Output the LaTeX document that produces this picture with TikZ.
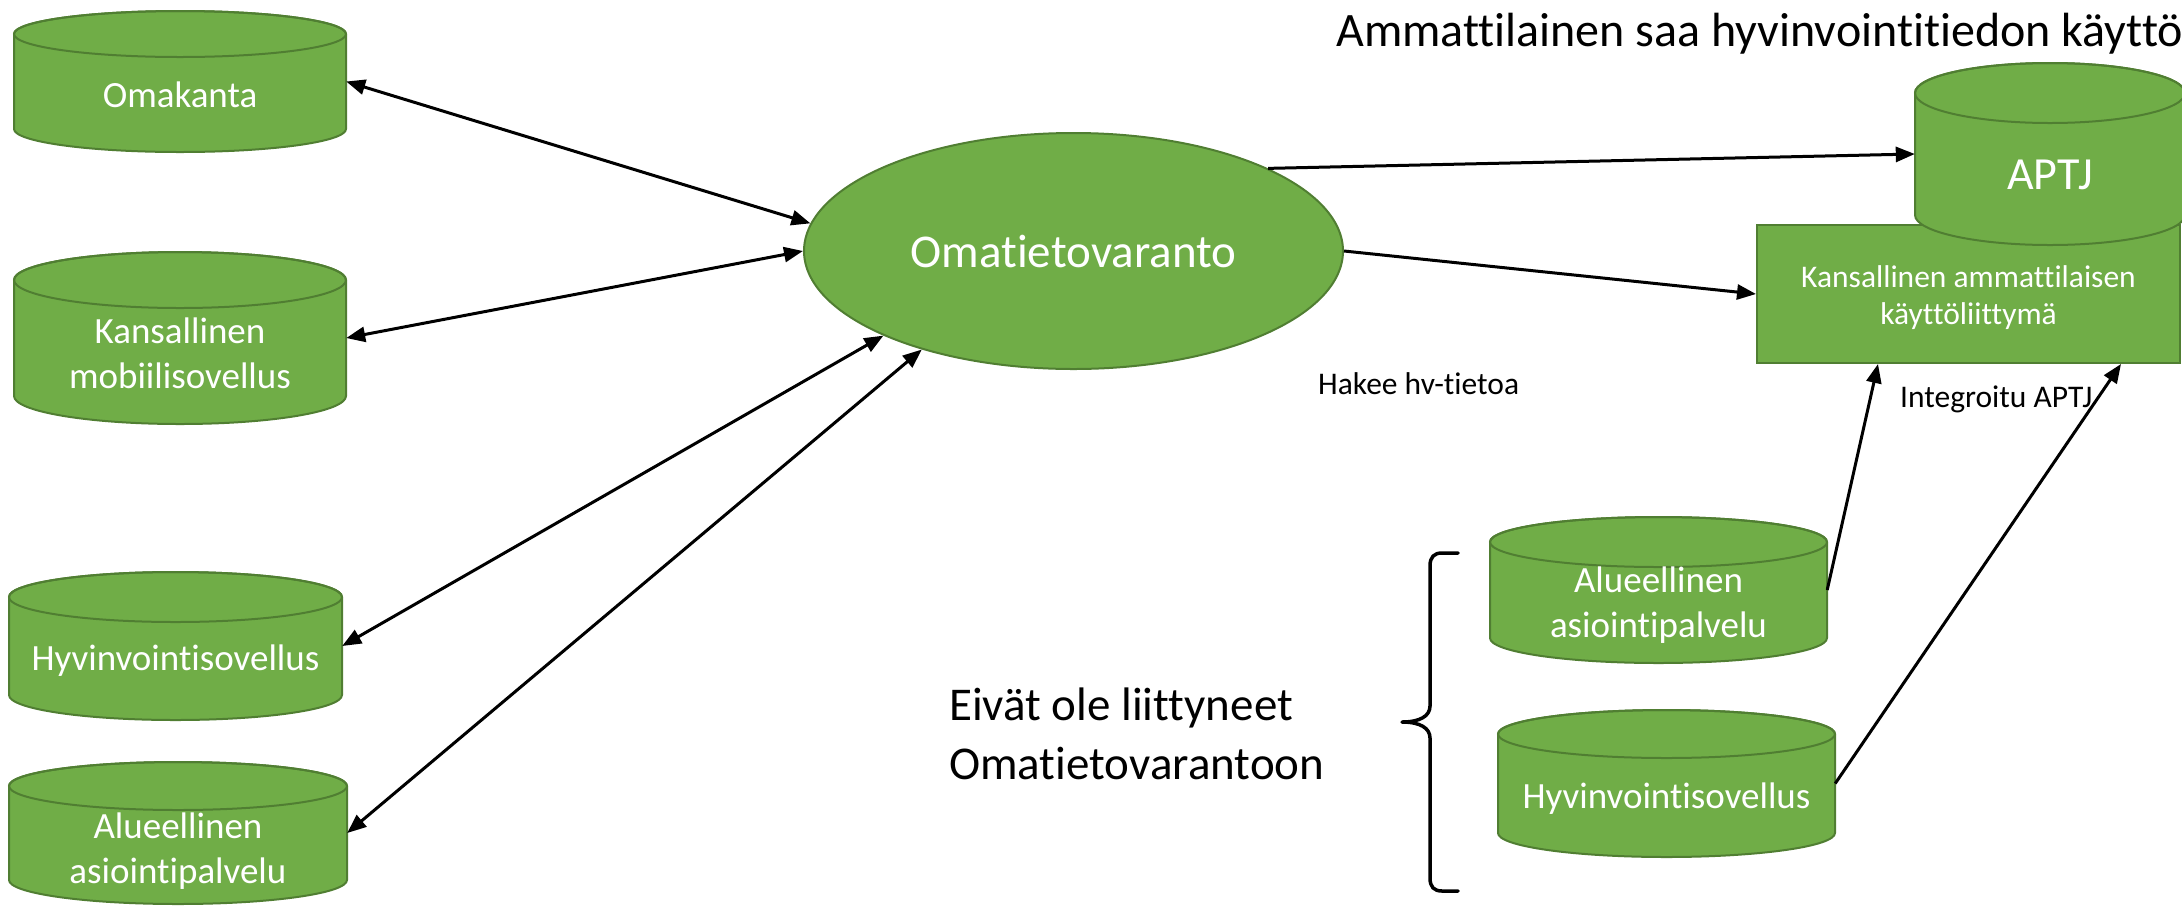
\documentclass[tikz,border=0pt]{standalone}
\usepackage{fontspec}
\setmainfont{Carlito}[Ligatures=NoCommon]
\usetikzlibrary{arrows.meta,shapes.geometric,calc}
\definecolor{gfill}{HTML}{70AD47}
\definecolor{gline}{HTML}{507E32}
\tikzset{
 cylshape/.style={fill=gfill, draw=gline, line width=2pt, line join=round},
 cyltop/.style={draw=gline, line width=2pt},
 cylbox/.style={rectangle, draw=none, inner sep=0pt},
 boxshape/.style={rectangle, fill=gfill, draw=gline, line width=2pt, inner sep=0pt},
 ovshape/.style={ellipse, fill=gfill, draw=gline, line width=2pt, inner sep=0pt, text=white, font=\fontsize{47}{56}\selectfont},
 wtxt/.style={text=white, inner sep=0pt, align=center},
 btxt/.style={text=black, inner sep=0pt, align=left},
 cyltxt/.style={wtxt, anchor=base, font=\fontsize{37}{45}\selectfont},
 smalltxt/.style={btxt, anchor=base west, font=\fontsize{31.5}{37}\selectfont},
 sgl/.style={line width=3pt, -{Triangle[length=19pt,width=15pt]}},
 dbl/.style={line width=3pt, {Triangle[length=19pt,width=15pt]}-{Triangle[length=19pt,width=15pt]}},
 bracestyle/.style={line width=3.5pt, line join=round, line cap=round}
}
% name, left, top, right, bottom, ellipse half-height
\newcommand\cylnode[6]{%
  \pgfmathsetmacro\cylcx{(#2+#4)/2}%
  \pgfmathsetmacro\cylrx{(#4-#2)/2}%
  \pgfmathsetmacro\cylcy{(#3+#5)/2}%
  \pgfmathsetmacro\cylya{#3+#6}%
  \pgfmathsetmacro\cylyb{#5-#6}%
  \pgfmathsetmacro\cylhh{#5-#3}%
  \pgfmathsetmacro\cylww{#4-#2}%
  \path[cylshape] (#2,\cylya) -- (#2,\cylyb)
     arc[start angle=180,end angle=360,x radius=\cylrx pt,y radius=#6pt]
     -- (#4,\cylya)
     arc[start angle=0,end angle=180,x radius=\cylrx pt,y radius=#6pt] -- cycle;
  \draw[cyltop] (\cylcx,\cylya) ellipse[x radius=\cylrx pt,y radius=#6pt];
  \node[cylbox,minimum width=\cylww pt,minimum height=\cylhh pt] (#1) at (\cylcx,\cylcy) {};
}
\begin{document}
\begin{tikzpicture}[x=1pt,y=-1pt]
\fill[white] (0,0) rectangle (2182,906);
\useasboundingbox (0,0) rectangle (2182,906);

% left cylinders
\cylnode{omakanta}{14}{11}{346}{152}{23}
\node[cyltxt] (omakantatxt) at (180,107) {Omakanta};
\cylnode{mobiili}{14}{252}{346}{424}{28}
\node[cyltxt] (mobiilitxt) at (180,388) {Kansallinen\\mobiilisovellus};
\cylnode{hyvL}{9}{572}{342}{720}{25}
\node[cyltxt] (hyvLtxt) at (175.5,670) {Hyvinvointisovellus};
\cylnode{aluL}{9}{762}{347}{904}{24}
\node[cyltxt] (aluLtxt) at (178,883) {Alueellinen\\asiointipalvelu};

% centre ellipse
\node[ovshape,minimum width=539pt,minimum height=236pt] (ov) at (1073.5,251) {Omatietovaranto};

% right side
\node[boxshape,minimum width=423pt,minimum height=138pt] (box) at (1968.5,294) {};
\node[wtxt,anchor=base,font=\fontsize{31.5}{37}\selectfont] (boxtxt) at (1968.5,324) {Kansallinen ammattilaisen\\käyttöliittymä};
\cylnode{aptj}{1915}{63}{2185}{245}{30}
\node[wtxt,anchor=base,font=\fontsize{46}{50}\selectfont] (aptjtxt) at (2050,189) {APTJ};

\cylnode{aluR}{1490}{517}{1827}{663}{25}
\node[cyltxt] (aluRtxt) at (1658.5,637) {Alueellinen\\asiointipalvelu};
\cylnode{hyvR}{1498}{710}{1835}{857}{24}
\node[cyltxt] (hyvRtxt) at (1666.5,808) {Hyvinvointisovellus};

% texts
\node[btxt,anchor=base west,font=\fontsize{48}{56}\selectfont] (title) at (1336,46) {Ammattilainen saa hyvinvointitiedon käyttö};
\node[smalltxt] (hakee) at (1318,394) {Hakee hv-tietoa};
\node[smalltxt] (integ) at (1900,407) {Integroitu APTJ};
\node[btxt,anchor=base west,font=\fontsize{47}{59}\selectfont] (eivat) at (949,779) {Eivät ole liittyneet\\Omatietovarantoon};

% brace
\draw[bracestyle] (1458,553) -- (1442,553) .. controls (1434,553) and (1430,557) .. (1430,566)
  -- (1430,706) .. controls (1430,716) and (1420,722) .. (1402,722)
  .. controls (1420,722) and (1430,728) .. (1430,738)
  -- (1430,878) .. controls (1430,887) and (1434,891) .. (1442,891) -- (1458,891);

% connectors
\draw[dbl] (omakanta.east) -- (ov.174);
\draw[dbl] (mobiili.east) -- (ov.west);
\draw[dbl] (hyvL.east) -- (ov.204);
\draw[dbl] (aluL.east) -- (ov.213);
\draw[sgl] (ov.23.5) -- (aptj.west);
\draw[sgl] (ov.east) -- (box.west);
\draw[sgl] (aluR.east) -- ($(box.south west)+(122,0)$);
\draw[sgl] (hyvR.east) -- ($(box.south east)+(-60,0)$);
\end{tikzpicture}
\end{document}
